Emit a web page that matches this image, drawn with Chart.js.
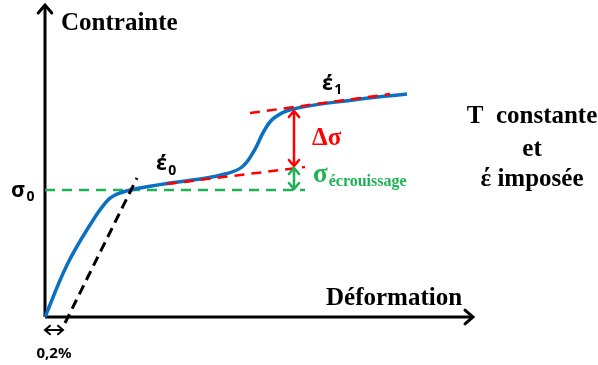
<!DOCTYPE html>
<html>
<head>
<meta charset="utf-8">
<script src="https://cdn.jsdelivr.net/npm/chart.js@4.4.1/dist/chart.umd.min.js"></script>
<style>
  html, body { margin: 0; padding: 0; background: #fff; }
</style>
</head>
<body>
<canvas id="chart" width="598" height="365"></canvas>
<script>
// Stress-strain schematic, arbitrary units (origin = 0,0)
const curveX = [0, 22, 45, 63, 75, 95, 125, 155, 180, 197, 209, 219, 229, 248, 308, 362];
const curveY = [0, 52, 92, 117, 124, 129, 134, 138, 143, 150, 166, 186, 199, 208, 217, 223];

// 0,2% offset line
const offsetX = [20, 92];
const offsetY = [-6, 139];

// sigma_0 level
const sigma0X = [0, 260];
const sigma0Y = [127, 127];

// tangents for the two strain rates
const lowerTanX = [122, 260];
const lowerTanY = [133, 150];
const upperTanX = [205, 345];
const upperTanY = [204, 223];

// axes
const axisX = [0, 428];
const axisY = [0, 312];

const BLUE = '#0a70c4';
const GREEN = '#1db254';
const RED = '#ff0000';

const pts = (xs, ys) => xs.map((x, i) => ({ x, y: ys[i] }));

function chevron(ctx, x, y, angle, size, color, width) {
  ctx.save();
  ctx.translate(x, y);
  ctx.rotate(angle);
  ctx.strokeStyle = color;
  ctx.lineWidth = width;
  ctx.lineCap = 'round';
  ctx.lineJoin = 'miter';
  ctx.beginPath();
  ctx.moveTo(-size, -size * 0.85);
  ctx.lineTo(0, 0);
  ctx.lineTo(-size, size * 0.85);
  ctx.stroke();
  ctx.restore();
}

function doubleArrow(ctx, x1, y1, x2, y2, color, width, head) {
  ctx.save();
  ctx.strokeStyle = color;
  ctx.lineWidth = width;
  ctx.beginPath();
  ctx.moveTo(x1, y1);
  ctx.lineTo(x2, y2);
  ctx.stroke();
  ctx.restore();
  const a = Math.atan2(y2 - y1, x2 - x1);
  chevron(ctx, x2, y2, a, head, color, width);
  chevron(ctx, x1, y1, a + Math.PI, head, color, width);
}

function withSub(ctx, main, sub, x, y, mainFont, subFont, color, drop) {
  ctx.fillStyle = color;
  ctx.textAlign = 'left';
  ctx.textBaseline = 'alphabetic';
  ctx.font = mainFont;
  ctx.fillText(main, x, y);
  const w = ctx.measureText(main).width;
  ctx.font = subFont;
  ctx.fillText(sub, x + w + 1, y + drop);
}

const annotations = {
  id: 'annotations',
  afterDatasetsDraw(chart) {
    const { ctx } = chart;
    const sx = chart.scales.x;
    const sy = chart.scales.y;
    const X = (v) => sx.getPixelForValue(v);
    const Y = (v) => sy.getPixelForValue(v);

    // axis arrow heads
    chevron(ctx, X(axisX[0]), Y(axisY[1]), -Math.PI / 2, 8, '#000', 3);
    chevron(ctx, X(axisX[1]), Y(0), 0, 8, '#000', 3);

    // delta sigma and hardening arrows
    doubleArrow(ctx, X(249), Y(206), X(249), Y(151), RED, 2.5, 6);
    doubleArrow(ctx, X(249), Y(149), X(249), Y(128), GREEN, 2.5, 6);

    // 0,2% arrow
    doubleArrow(ctx, X(0), Y(-13), X(18), Y(-13), '#000', 2, 5);

    const serifB = (s) => `bold ${s}px "Liberation Serif", "Times New Roman", serif`;
    const sansB = (s) => `bold ${s}px "Noto Sans", "Open Sans", sans-serif`;

    ctx.save();
    ctx.fillStyle = '#000';
    ctx.textBaseline = 'alphabetic';
    ctx.textAlign = 'left';
    ctx.font = serifB(25);
    ctx.fillText('Contrainte', X(16), Y(287));
    ctx.fillText('Déformation', X(281), Y(12));

    ctx.textAlign = 'center';
    ctx.fillText('T  constante', X(487), Y(194));
    ctx.fillText('et', X(487), Y(161));
    ctx.fillText('έ imposée', X(487), Y(131));

    withSub(ctx, 'σ', '0', X(-34), Y(120), sansB(22), sansB(14), '#000', 4);
    withSub(ctx, 'έ', '0', X(111), Y(147), sansB(22), sansB(14), '#000', 5);
    withSub(ctx, 'έ', '1', X(277), Y(227), sansB(22), sansB(14), '#000', 4);

    ctx.fillStyle = RED;
    ctx.textAlign = 'left';
    ctx.font = serifB(25);
    ctx.fillText('Δσ', X(267), Y(172));

    withSub(ctx, 'σ', 'écrouissage', X(268), Y(135), serifB(27), serifB(16), GREEN, 4);

    ctx.fillStyle = '#000';
    ctx.textAlign = 'center';
    ctx.font = sansB(15);
    ctx.fillText('0,2%', X(9), Y(-41));
    ctx.restore();
  },
};

const line = (data, color, width, dash) => ({
  data,
  showLine: true,
  borderColor: color,
  borderWidth: width,
  borderDash: dash || [],
  pointRadius: 0,
  fill: false,
});

// Chart.js paints the first dataset on top, so list from front to back
new Chart(document.getElementById('chart'), {
  type: 'scatter',
  data: {
    datasets: [
      line(pts(upperTanX, upperTanY), RED, 2.5, [10, 7]),
      line(pts(lowerTanX, lowerTanY), RED, 2.5, [10, 7]),
      line(pts(offsetX, offsetY), '#000', 3, [10, 6]),
      { ...line(pts(curveX, curveY), BLUE, 3.5), tension: 0.4 },
      line(pts(sigma0X, sigma0Y), GREEN, 2.5, [10, 7]),
      line([{ x: axisX[0], y: axisY[0] }, { x: axisX[0], y: axisY[1] }], '#000', 3),
      line([{ x: axisX[0], y: 0 }, { x: axisX[1], y: 0 }], '#000', 3),
    ],
  },
  options: {
    responsive: false,
    animation: false,
    devicePixelRatio: 1,
    layout: { padding: 0 },
    scales: {
      x: { type: 'linear', display: false, min: -45, max: 553 },
      y: { type: 'linear', display: false, min: -48, max: 317 },
    },
    plugins: {
      legend: { display: false },
      tooltip: { enabled: false },
    },
  },
  plugins: [annotations],
});
</script>
</body>
</html>
